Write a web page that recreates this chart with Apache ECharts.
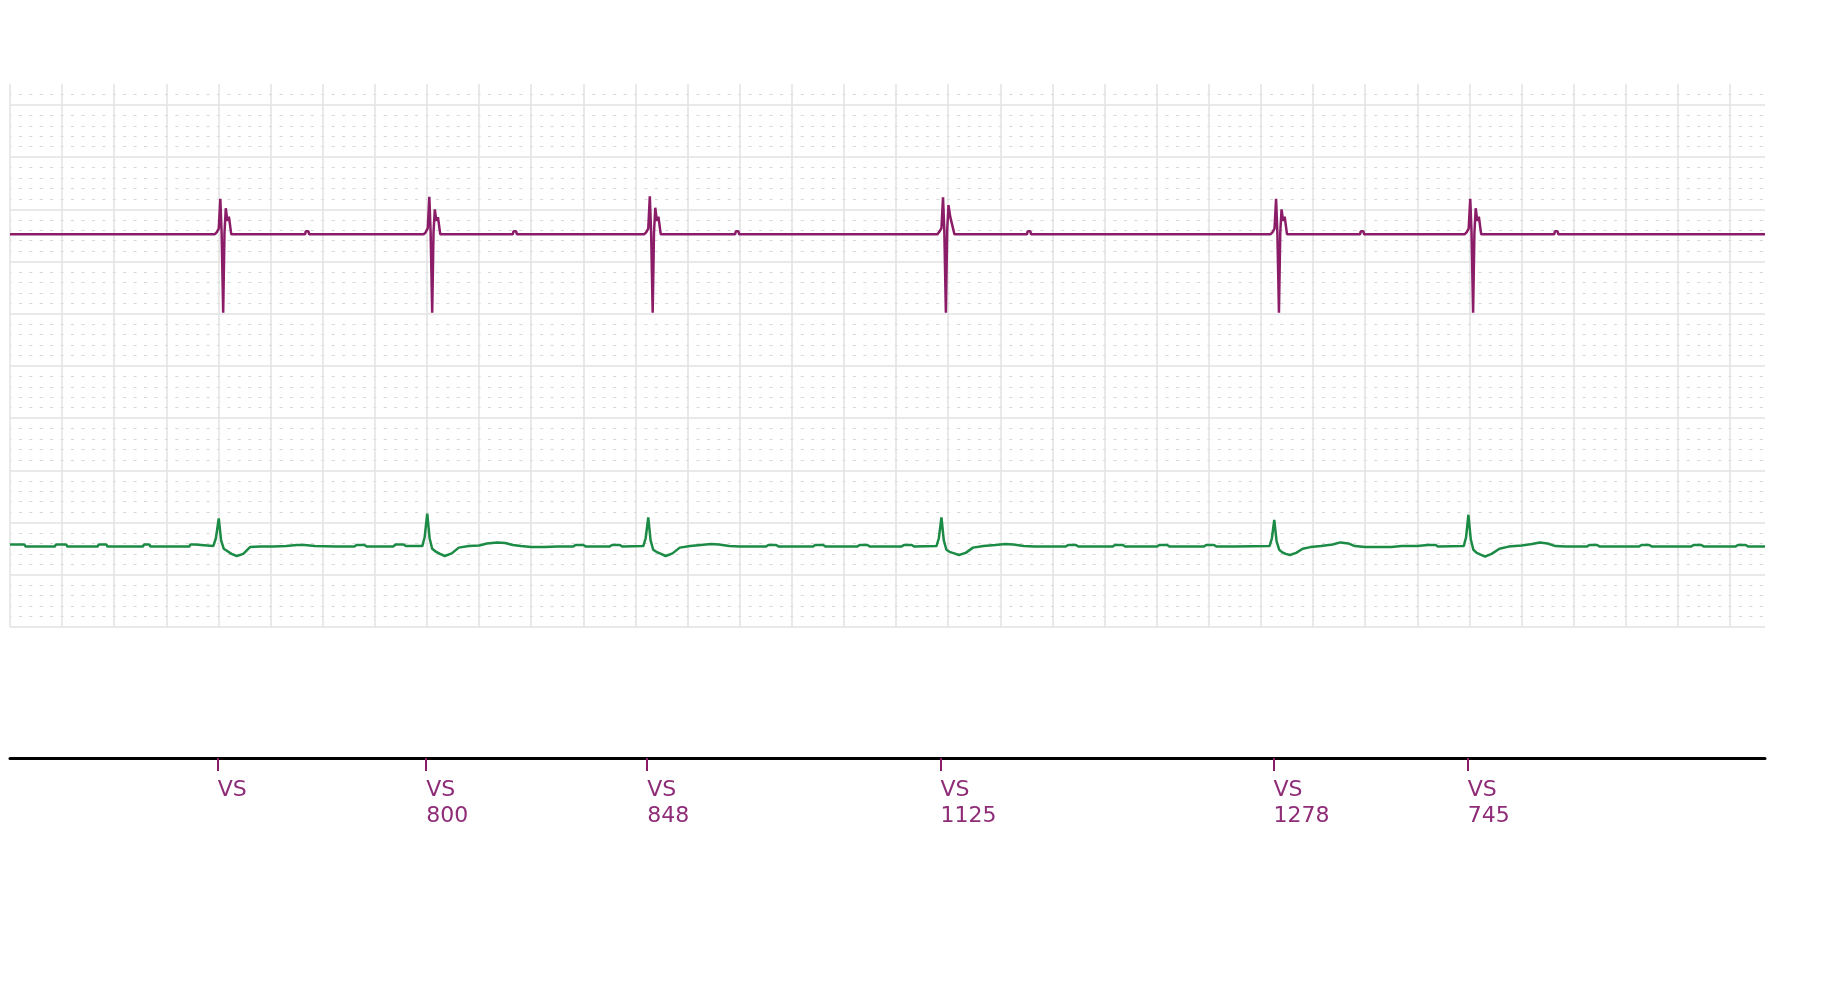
<!DOCTYPE html>
<html>
<head>
<meta charset="utf-8">
<script src="https://cdn.jsdelivr.net/npm/echarts@6/dist/echarts.min.js"></script>
<style>
html,body{margin:0;padding:0;background:#fff;}
#c{width:1827px;height:1006px;}
</style>
</head>
<body>
<div id="c"></div>
<script>
// ---- data (time in ms, amplitude in grid units) ----
const timeMax = 6734;
const markerTimes = [797, 1597, 2445, 3570, 4848, 5593];
const markerNames = ['VS', 'VS', 'VS', 'VS', 'VS', 'VS'];
const markerIntervals = [null, 800, 848, 1125, 1278, 745];

const purpleTrace = [
  [0,7.52],
  [785,7.52],[793,7.56],[801,7.63],[807,8.20],[812,7.55],[818,6.02],[823,7.55],[828,8.02],[834,7.78],[840,7.86],[849,7.52],
  [1132,7.52],[1135,7.58],[1145,7.58],[1148,7.52],
  [1587,7.52],[1595,7.56],[1603,7.64],[1609,8.24],[1614,7.55],[1620,6.02],[1625,7.55],[1630,8.00],[1636,7.78],[1642,7.85],[1651,7.52],
  [1929,7.52],[1932,7.58],[1942,7.58],[1945,7.52],
  [2433,7.52],[2441,7.56],[2449,7.63],[2455,8.25],[2460,7.55],[2466,6.02],[2471,7.55],[2476,8.03],[2482,7.78],[2488,7.86],[2497,7.52],
  [2782,7.52],[2785,7.58],[2795,7.58],[2798,7.52],
  [3558,7.52],[3566,7.57],[3574,7.64],[3580,8.23],[3585,7.60],[3591,6.02],[3596,7.60],[3601,8.08],[3608,7.85],[3614,7.88],[3624,7.52],
  [3902,7.52],[3905,7.58],[3915,7.58],[3918,7.52],
  [4836,7.52],[4844,7.56],[4852,7.63],[4858,8.20],[4863,7.55],[4869,6.02],[4874,7.55],[4879,8.00],[4885,7.78],[4891,7.86],[4900,7.52],
  [5180,7.52],[5183,7.58],[5193,7.58],[5196,7.52],
  [5581,7.52],[5589,7.56],[5597,7.63],[5603,8.20],[5608,7.55],[5614,6.02],[5619,7.55],[5624,8.02],[5630,7.78],[5636,7.86],[5645,7.52],
  [5925,7.52],[5928,7.58],[5938,7.58],[5941,7.52],
  [6734,7.52]
];

const greenTrace = [
  [0,1.58],[55,1.58],[60,1.54],[172,1.54],[176,1.58],[216,1.58],[220,1.54],[336,1.54],[340,1.58],[370,1.58],[374,1.54],
  [510,1.54],[514,1.58],[535,1.58],[539,1.54],[688,1.54],[692,1.58],[710,1.58],[714,1.55],
  [780,1.55],[790,1.70],[801,2.08],[810,1.66],[820,1.50],[832,1.46],[850,1.40],[870,1.36],[895,1.40],[921,1.53],[960,1.54],
  [1010,1.54],[1060,1.55],[1100,1.57],[1130,1.57],[1170,1.55],[1250,1.54],[1320,1.54],[1330,1.57],[1360,1.57],[1370,1.54],
  [1470,1.54],[1480,1.58],[1510,1.58],[1520,1.55],[1582,1.55],
  [1591,1.72],[1601,2.17],[1610,1.70],[1620,1.50],[1632,1.45],[1650,1.40],[1668,1.36],[1695,1.41],[1722,1.52],[1760,1.55],
  [1800,1.56],[1830,1.60],[1870,1.62],[1900,1.61],[1930,1.57],[1960,1.55],[2000,1.53],[2050,1.53],[2100,1.54],
  [2160,1.54],[2170,1.57],[2200,1.57],[2210,1.54],[2300,1.54],[2310,1.57],[2340,1.57],[2350,1.54],[2430,1.55],
  [2439,1.70],[2449,2.10],[2458,1.66],[2468,1.48],[2480,1.44],[2498,1.40],[2516,1.36],[2542,1.41],[2570,1.52],[2610,1.55],
  [2650,1.57],[2690,1.59],[2720,1.58],[2760,1.55],[2800,1.54],[2900,1.54],[2910,1.57],[2940,1.57],[2950,1.54],
  [3080,1.54],[3090,1.57],[3120,1.57],[3130,1.54],[3250,1.54],[3260,1.57],[3290,1.57],[3300,1.54],
  [3420,1.54],[3430,1.57],[3460,1.57],[3470,1.54],[3555,1.55],
  [3564,1.70],[3574,2.10],[3583,1.66],[3593,1.48],[3605,1.44],[3623,1.41],[3641,1.38],[3667,1.42],[3695,1.52],[3735,1.55],
  [3780,1.57],[3820,1.59],[3850,1.58],[3890,1.55],[3930,1.54],[4050,1.54],[4060,1.57],[4090,1.57],[4100,1.54],
  [4230,1.54],[4240,1.57],[4270,1.57],[4280,1.54],[4400,1.54],[4410,1.57],[4440,1.57],[4450,1.54],
  [4580,1.54],[4590,1.57],[4620,1.57],[4630,1.54],[4700,1.54],[4833,1.55],
  [4842,1.70],[4851,2.05],[4860,1.64],[4870,1.48],[4882,1.43],[4895,1.40],[4911,1.38],[4935,1.42],[4960,1.50],[4990,1.53],
  [5030,1.55],[5075,1.58],[5105,1.62],[5135,1.60],[5160,1.55],[5200,1.53],[5300,1.53],[5340,1.55],[5400,1.55],
  [5440,1.57],[5470,1.57],[5480,1.54],[5578,1.55],
  [5587,1.72],[5596,2.15],[5605,1.68],[5615,1.48],[5628,1.42],[5645,1.38],[5660,1.35],[5685,1.40],[5715,1.50],[5750,1.54],
  [5800,1.56],[5840,1.59],[5870,1.62],[5900,1.60],[5930,1.55],[5970,1.54],[6050,1.54],[6060,1.57],[6090,1.57],[6100,1.54],
  [6250,1.54],[6260,1.57],[6290,1.57],[6300,1.54],[6450,1.54],[6460,1.57],[6490,1.57],[6500,1.54],
  [6620,1.54],[6630,1.57],[6660,1.57],[6670,1.54],[6734,1.54]
];

// ---- chart ----
const purple = '#8a1c68';
const labelPurple = '#8e2c78';
const green = '#1c8b45';
const gridLeft = 10, gridWidth = 1755, gridTop = 84, gridHeight = 543;
const minorPx = gridWidth * 40 / timeMax; // pixel length of one minor division (40 ms)

function markerLabel(v) {
  let idx = -1, best = Infinity;
  markerTimes.forEach((t, i) => { const d = Math.abs(t - v); if (d < best) { best = d; idx = i; } });
  if (idx < 0 || best > 1) return '';
  return markerIntervals[idx] == null ? markerNames[idx] : markerNames[idx] + '\n' + markerIntervals[idx];
}

const chart = echarts.init(document.getElementById('c'), null, {renderer: 'canvas'});
chart.setOption({
  animation: false,
  backgroundColor: '#ffffff',
  grid: [
    {left: gridLeft, top: gridTop, width: gridWidth, height: gridHeight, containLabel: false},
    {left: gridLeft, top: 700, width: gridWidth, height: 58, containLabel: false}
  ],
  xAxis: [
    {
      type: 'value', gridIndex: 0, min: 0, max: timeMax, interval: 200,
      axisLine: {show: false}, axisTick: {show: false}, axisLabel: {show: false},
      splitLine: {show: true, showMaxLine: false, lineStyle: {color: '#e2e2e2', width: 1.5}}
    },
    {
      type: 'value', gridIndex: 1, min: 0, max: timeMax, position: 'bottom',
      axisLine: {show: true, onZero: false, lineStyle: {color: '#000000', width: 3}},
      axisTick: {show: true, customValues: markerTimes, length: 13, lineStyle: {color: purple, width: 2}},
      axisLabel: {
        show: true, customValues: markerTimes, formatter: markerLabel,
        align: 'left', verticalAlign: 'top', margin: 19,
        color: labelPurple, fontSize: 22, lineHeight: 26, fontFamily: 'DejaVu Sans'
      },
      splitLine: {show: false}
    }
  ],
  yAxis: [
    {
      type: 'value', gridIndex: 0, min: 0, max: 10.4, interval: 1,
      axisLine: {show: false}, axisTick: {show: false}, axisLabel: {show: false},
      splitLine: {show: true, showMaxLine: false, lineStyle: {color: '#e2e2e2', width: 1.5}},
      minorTick: {show: false, splitNumber: 5},
      minorSplitLine: {show: true, lineStyle: {color: '#d6d6d6', width: 1.2, type: [3, minorPx - 3], dashOffset: 1.5}}
    },
    {type: 'value', gridIndex: 1, show: false, min: 0, max: 1}
  ],
  series: [
    {
      type: 'line', xAxisIndex: 0, yAxisIndex: 0, data: purpleTrace, showSymbol: false, symbol: 'none',
      lineStyle: {color: purple, width: 2.5}, silent: true
    },
    {
      type: 'line', xAxisIndex: 0, yAxisIndex: 0, data: greenTrace, showSymbol: false, symbol: 'none',
      lineStyle: {color: green, width: 2.5}, silent: true
    }
  ]
});
</script>
</body>
</html>
